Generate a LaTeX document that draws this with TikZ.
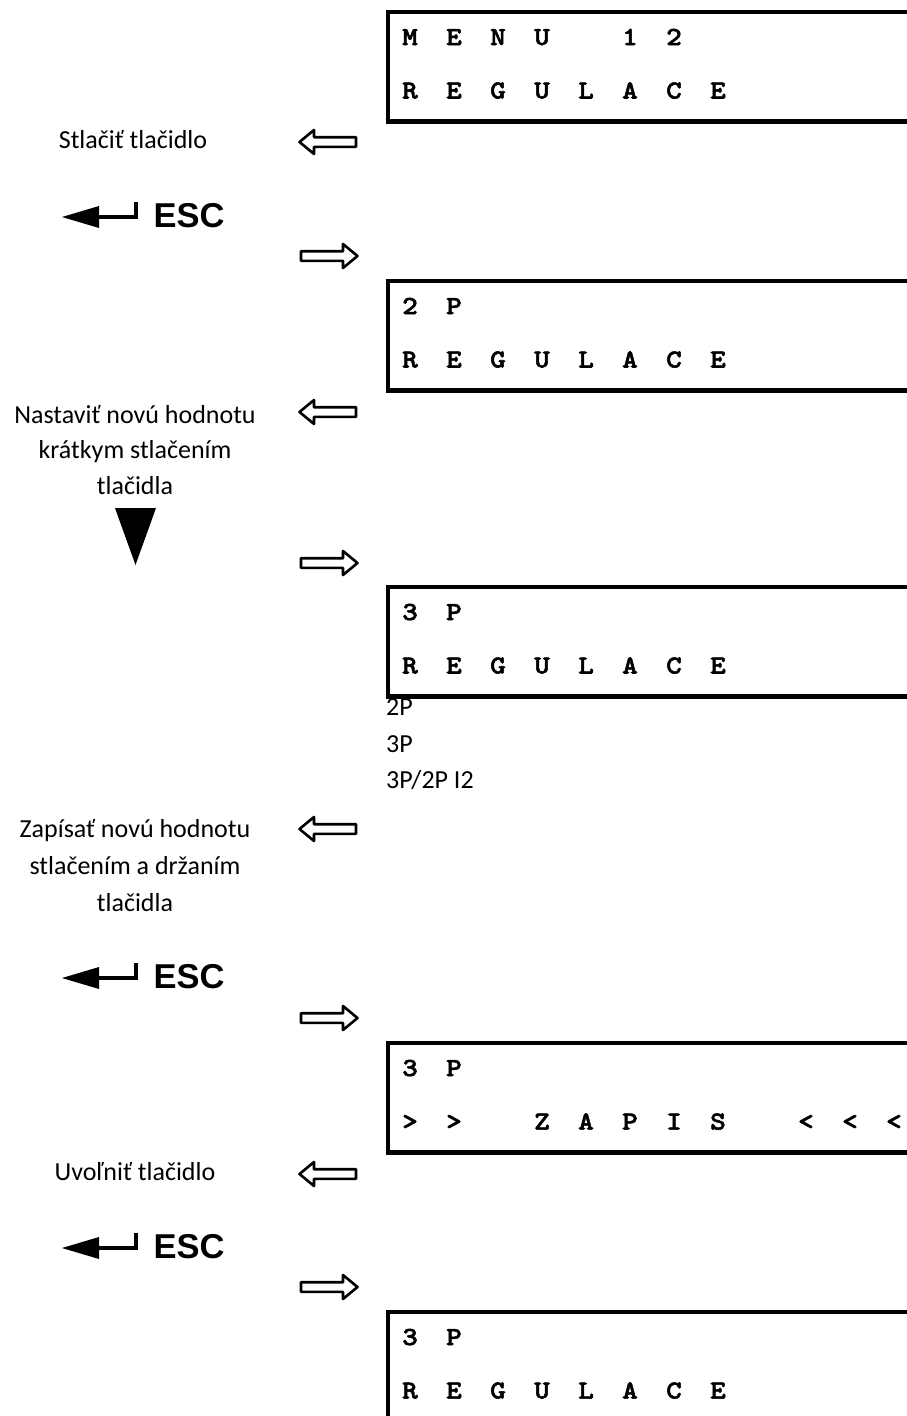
\documentclass[tikz,border=0pt]{standalone}
\usepackage{fontspec}
\newfontfamily\txtfont{Carlito}
\newfontfamily\escfont{Liberation Sans}
\newfontfamily\lcdfont{lmmonolt10-bold.otf}[FakeBold=2,FakeStretch=1.15]
\newcommand\lcdbox[4]{%
  \draw[lcdframe] (388,#2) rectangle (925,#2+109.5);
  \foreach \i/\c in {#3} \node[lcdchar] (#1a\i) at (410+44*\i,#2+33) {\c};
  \foreach \i/\c in {#4} \node[lcdchar] (#1b\i) at (410+44*\i,#2+86.5) {\c};
}
\newcommand\leftarr[1]{%
  \draw[hollow] (299.5,#1) -- ++(14.5,-12) -- ++(0,7.2) -- ++(42,0) -- ++(0,9.6) -- ++(-42,0) -- ++(0,7.2) -- cycle;}
\newcommand\rightarr[1]{%
  \draw[hollow] (357.5,#1) -- ++(-14.5,-12) -- ++(0,7.2) -- ++(-42,0) -- ++(0,9.6) -- ++(42,0) -- ++(0,7.2) -- cycle;}
\newcommand\escsym[2]{%
  \fill (62,#2-10) -- (99,#2-21) -- (99,#2+1) -- cycle;
  \draw[escline] (97,#2-10) -- (136,#2-10) -- (136,#2-25.5);
  \node[esctxt] (#1) at (153.5,#2) {ESC};}
\begin{document}
\begin{tikzpicture}[x=1pt,y=-1pt,
  lcdframe/.style={line width=4.3pt},
  lcdchar/.style={font=\lcdfont\fontsize{26}{26}\selectfont, anchor=base, inner sep=0pt},
  lbl/.style={font=\txtfont\fontsize{26}{31}\selectfont, anchor=base, inner sep=0pt},
  listtxt/.style={lbl, anchor=base west},
  hollow/.style={line width=2.6pt, line join=round, fill=white},
  esctxt/.style={font=\escfont\bfseries\fontsize{34.5}{34.5}\selectfont, anchor=base west, inner sep=0pt},
  escline/.style={line width=4.5pt}
]
\useasboundingbox (0,0) rectangle (907,1416);
\fill[white] (0,0) rectangle (907,1416);

% Box 1
\lcdbox{b1}{12}{0/M,1/E,2/N,3/U,5/1,6/2}{0/R,1/E,2/G,3/U,4/L,5/A,6/C,7/E}
\node[lbl] (t1) at (133,148) {Stlačiť tlačidlo};
\leftarr{142}
\escsym{esc1}{227}
\rightarr{256}

% Box 2
\lcdbox{b2}{281}{0/2,1/P}{0/R,1/E,2/G,3/U,4/L,5/A,6/C,7/E}
\node[lbl] (t2a) at (135,423) {Nastaviť novú hodnotu};
\node[lbl] (t2b) at (135,458.5) {krátkym stlačením};
\node[lbl] (t2c) at (135,494) {tlačidla};
\leftarr{412}
\fill (115,508) -- (156,508) -- (135.5,565) -- cycle;
\rightarr{563}

% Box 3
\lcdbox{b3}{587}{0/3,1/P}{0/R,1/E,2/G,3/U,4/L,5/A,6/C,7/E}
\node[listtxt] (l1) at (386,715) {2P};
\node[listtxt] (l2) at (386,752) {3P};
\node[listtxt] (l3) at (386,788) {3P/2P I2};
\node[lbl] (t3a) at (135,837) {Zapísať novú hodnotu};
\node[lbl] (t3b) at (135,874) {stlačením a držaním};
\node[lbl] (t3c) at (135,911) {tlačidla};
\leftarr{829}
\escsym{esc2}{988}
\rightarr{1018}

% Box 4
\lcdbox{b4}{1043}{0/3,1/P}{0/>,1/>,3/Z,4/A,5/P,6/I,7/S,9/<,10/<,11/<}
\node[lbl] (t4) at (135,1180) {Uvoľniť tlačidlo};
\leftarr{1174}
\escsym{esc3}{1258}
\rightarr{1287}

% Box 5
\lcdbox{b5}{1312}{0/3,1/P}{0/R,1/E,2/G,3/U,4/L,5/A,6/C,7/E}
\end{tikzpicture}
\end{document}
